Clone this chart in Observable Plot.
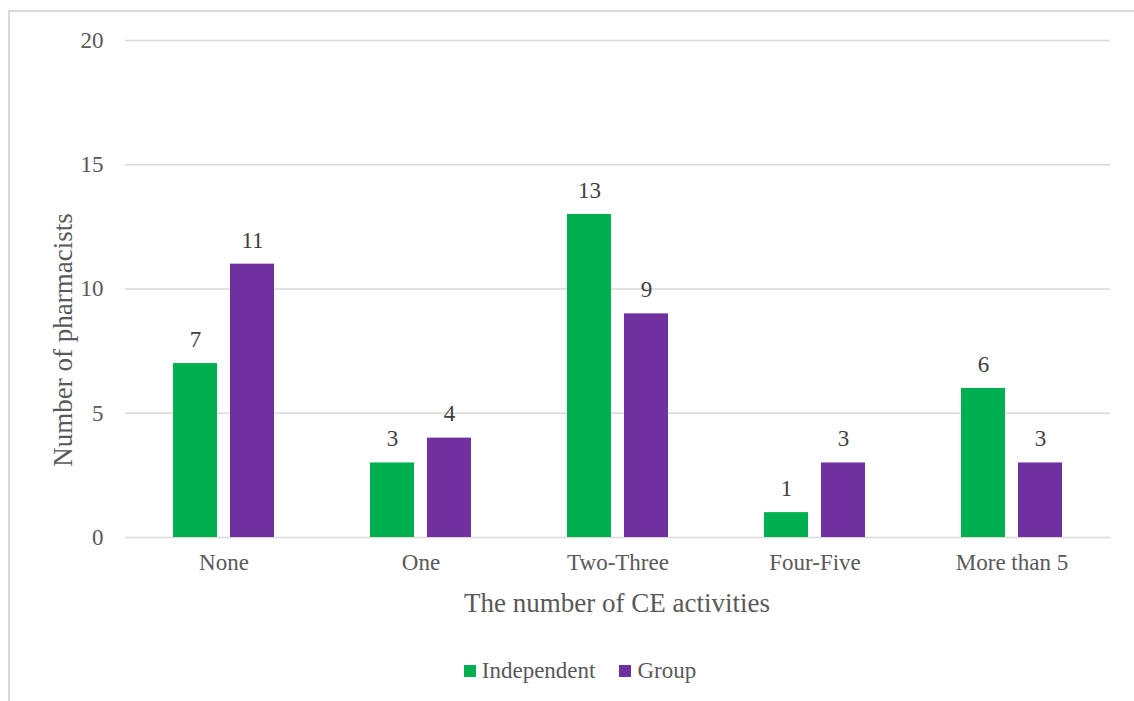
<!DOCTYPE html>
<html>
<head>
<meta charset="utf-8">
<script src="https://cdn.jsdelivr.net/npm/d3@7"></script>
<script src="https://cdn.jsdelivr.net/npm/@observablehq/plot@0.6"></script>
<style>
  html, body { margin: 0; padding: 0; background: #fff; }
  #frame {
    position: absolute; left: 8px; top: 10px; width: 1140px; height: 720px;
    border-top: 2px solid #d9d9d9; border-left: 2px solid #d9d9d9; box-sizing: border-box;
  }
  #chart { position: absolute; left: 0; top: 0; width: 1134px; height: 701px; overflow: hidden;
    font-family: "Liberation Serif", "Times New Roman", serif; color: #595959; }
  #chart svg { position: absolute; left: 0; top: 0; }
  #chart svg text { font-family: "Liberation Serif", "Times New Roman", serif; }
  .title { position: absolute; font-size: 27px; white-space: nowrap; line-height: 1; }
  #xtitle { left: 617px; top: 603px; transform: translate(-50%, -50%); }
  #ytitle { left: 63px; top: 340px; transform: translate(-50%, -50%) rotate(-90deg); }
  #legend { position: absolute; left: 0; width: 1134px; top: 658px; display: flex; justify-content: center;
    gap: 24px; font-size: 23px; line-height: 26px; padding-left: 26px; box-sizing: border-box; }
  .item { display: flex; align-items: center; gap: 6px; }
  .swatch { width: 12px; height: 12px; display: inline-block; }
</style>
</head>
<body>
<div id="frame"></div>
<div id="chart">
  <div id="xtitle" class="title">The number of CE activities</div>
  <div id="ytitle" class="title">Number of pharmacists</div>
  <div id="legend"></div>
</div>
<script>
// Pharmacists by number of continuing-education activities
const categories = ["None", "One", "Two-Three", "Four-Five", "More than 5"];
const seriesNames = ["Independent", "Group"];
const independent = [7, 3, 13, 1, 6];
const group = [11, 4, 9, 3, 3];
const yTicks = [0, 5, 10, 15, 20];
const colors = ["#00B050", "#7030A0"];
const serif = "'Liberation Serif', 'Times New Roman', serif";

const data = categories.flatMap((c, i) => [
  {category: c, series: seriesNames[0], value: independent[i]},
  {category: c, series: seriesNames[1], value: group[i]}
]);

const chart = Plot.plot({
  width: 1134,
  height: 630,
  marginLeft: 125,
  marginRight: 24,
  marginTop: 40,
  marginBottom: 93,
  style: `font-family: ${serif}; font-size: 23px; color: #595959; background: transparent;`,
  fx: {domain: categories, padding: 0, label: null},
  x: {domain: seriesNames, axis: null, paddingInner: 0.228, paddingOuter: 0.842},
  y: {domain: [0, 20], label: null},
  color: {domain: seriesNames, range: colors},
  marks: [
    Plot.ruleY(yTicks, {stroke: "#d9d9d9", strokeWidth: 1.3}),
    Plot.barY(data, {fx: "category", x: "series", y: "value", fill: "series"}),
    Plot.text(data, {fx: "category", x: "series", y: "value", text: "value", dy: -24, fill: "#404040", fontFamily: serif, fontSize: 23}),
    Plot.axisY({ticks: yTicks, tickSize: 0, tickPadding: 22, label: null, fill: "#595959", fontFamily: serif, fontSize: 23}),
    Plot.axisFx({anchor: "bottom", tickSize: 0, tickPadding: 16, label: null, fill: "#595959", fontFamily: serif, fontSize: 23})
  ]
});
document.getElementById("chart").prepend(chart);

// Legend below the plot
const legend = document.getElementById("legend");
seriesNames.forEach((name, i) => {
  const item = document.createElement("div");
  item.className = "item";
  const sw = document.createElement("span");
  sw.className = "swatch";
  sw.style.background = colors[i];
  const label = document.createElement("span");
  label.textContent = name;
  item.append(sw, label);
  legend.append(item);
});
</script>
</body>
</html>
